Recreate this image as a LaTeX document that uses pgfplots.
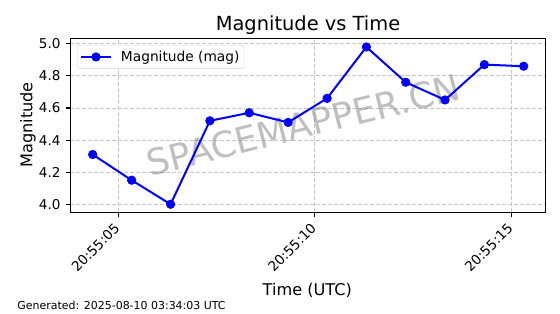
\documentclass[border=0pt]{standalone}
\usepackage{fontspec}
\setmainfont{DejaVu Sans}
\usepackage{pgfplots}
\pgfplotsset{compat=1.18}
\begin{document}
\begin{tikzpicture}
\path[use as bounding box] (0bp,0bp) rectangle (560bp,314bp);
\begin{axis}[
  at={(70.3bp,101.7bp)}, anchor=south west,
  scale only axis, width=475.4bp, height=174bp,
  xmin=3.78, xmax=15.87, ymin=3.95, ymax=5.034,
  xtick={5,10,15}, xticklabels={20:55:05,20:55:10,20:55:15},
  ytick={4.0,4.2,4.4,4.6,4.8,5.0},
  /pgf/number format/assume math mode=true,
  yticklabel={\pgfmathprintnumber[fixed,fixed zerofill,precision=1]{\tick}},
  tick align=outside, major tick length=4.8bp,
  tick style={black, line width=1.1bp},
  axis line style={black, line width=1.1bp},
  xtick pos=bottom, ytick pos=left,
  grid=major, grid style={dash pattern=on 4bp off 2bp, gray!45, line width=0.8bp},
  ticklabel style={font=\fontsize{13.6}{16}\selectfont},
  yticklabel style={inner sep=0pt, anchor=east, xshift=-4.8bp},
  xticklabel style={inner sep=0pt, xshift=-5bp, yshift=-5bp, rotate=45, anchor=north east},
  legend style={at={(0,1)}, anchor=north west, xshift=7bp, yshift=-7bp,
    draw=gray!35, rounded corners=2bp, font=\fontsize{13.8}{16}\selectfont,
    inner xsep=2.5bp, inner ysep=3.5bp, column sep=7bp, cells={anchor=west}},
  legend image code/.code={\draw[mark repeat=2,mark phase=2] plot coordinates {(0bp,0bp) (15bp,0bp) (30bp,0bp)};},
]
\node[rotate=14, text=gray, text opacity=0.5, font=\fontsize{36}{42}\selectfont] at (rel axis cs:0.49,0.5) {SPACEMAPPER.CN};
\addplot[color=blue, line width=2bp, mark=*, mark size=4.2bp, mark options={solid, fill=blue, line width=0.8bp}] coordinates {
(4.35,4.31) (5.34,4.15) (6.33,4.00) (7.33,4.52) (8.33,4.57) (9.32,4.51)
(10.31,4.66) (11.31,4.98) (12.31,4.76) (13.31,4.65) (14.31,4.87) (15.31,4.86)
};
\addlegendentry{Magnitude (mag)}
\end{axis}
\node[anchor=base, font=\fontsize{19.5}{23}\selectfont] at (308bp,283.3bp) {Magnitude vs Time};
\node[anchor=base, rotate=90, font=\fontsize{16.2}{19}\selectfont] at (32.3bp,189bp) {Magnitude};
\node[anchor=base, font=\fontsize{16.2}{19}\selectfont] at (307.3bp,19bp) {Time (UTC)};
\node[anchor=base west, inner sep=0pt, font=\fontsize{11}{13}\selectfont] at (17.3bp,5bp) {Generated: 2025-08-10 03:34:03 UTC};
\end{tikzpicture}
\end{document}
